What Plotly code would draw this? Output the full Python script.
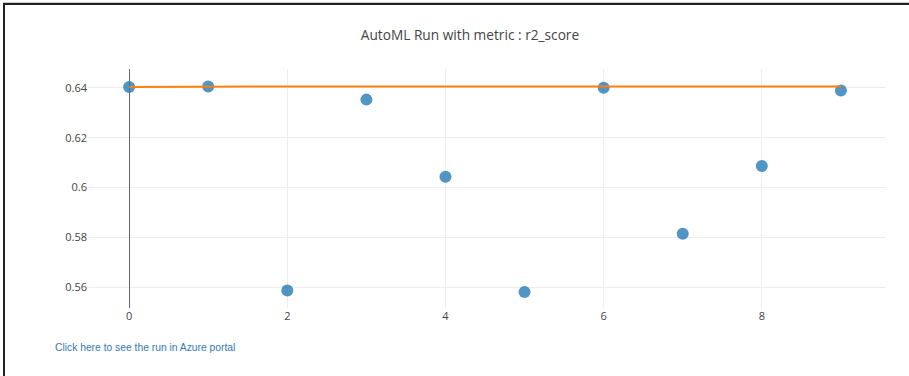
import plotly.graph_objects as go

iterations = [0, 1, 2, 3, 4, 5, 6, 7, 8, 9]
scores = [0.6404, 0.6406, 0.5586, 0.6353, 0.6043, 0.5580, 0.6401, 0.5814, 0.6086, 0.6390]
best_scores = []
cur = None
for s in scores:
    cur = s if cur is None else max(cur, s)
    best_scores.append(cur)

title_text = "AutoML Run with metric : r2_score"
link_text = "Click here to see the run in Azure portal"

W, H = 909, 376
ML, MR, MT, MB = 88, 23, 69, 68
PW, PH = W - ML - MR, H - MT - MB

def px_x(px):
    return (px - ML) / PW

def px_y(py):
    return (H - MB - py) / PH

fig = go.Figure()
fig.add_trace(go.Scatter(x=iterations, y=scores, mode="markers",
                         marker=dict(size=12, color="#1f77b4", opacity=0.78),
                         showlegend=False))
fig.add_trace(go.Scatter(x=iterations, y=best_scores, mode="lines",
                         line=dict(color="#ff7f0e", width=2),
                         showlegend=False))

fig.update_layout(
    width=W, height=H, autosize=False,
    margin=dict(l=ML, r=MR, t=MT, b=MB, pad=0),
    paper_bgcolor="white", plot_bgcolor="white",
    font=dict(family="Open Sans, sans-serif", color="#444", size=11),
    title=dict(text=title_text, x=0.517, xanchor="center", y=1 - 35 / H,
               yanchor="middle", font=dict(size=13.7, color="#444")),
    xaxis=dict(range=[-0.52, 9.57], showgrid=True, gridcolor="#eee",
               zeroline=True, zerolinecolor="#666", zerolinewidth=1,
               dtick=2, tick0=0, showline=False, ticks=""),
    yaxis=dict(range=[0.5516, 0.6476], showgrid=True, gridcolor="#eee",
               zeroline=False, tickvals=[0.56, 0.58, 0.6, 0.62, 0.64],
               ticktext=["0.56", "0.58", "0.6", "0.62", "0.64"],
               showline=False, ticks=""),
    annotations=[
        dict(text=link_text, xref="paper", yref="paper",
             x=px_x(53), xanchor="left", y=px_y(347), yanchor="middle",
             showarrow=False,
             font=dict(family="Liberation Sans, Arial, sans-serif", size=10.3, color="#337ab7")),
    ],
)

post = (
    "document.body.style.margin='0';"
    "document.body.style.overflow='hidden';"
    "var b=document.createElement('div');"
    "b.style.cssText='position:fixed;left:3px;top:3px;width:906px;height:373px;"
    "border-left:2px solid #222;border-top:2px solid #222;"
    "box-shadow:0 -1px 0 #ccc;pointer-events:none;z-index:10;';"
    "document.body.appendChild(b);"
)

fig.write_html("out.html", config={"displayModeBar": False}, post_script=post)
